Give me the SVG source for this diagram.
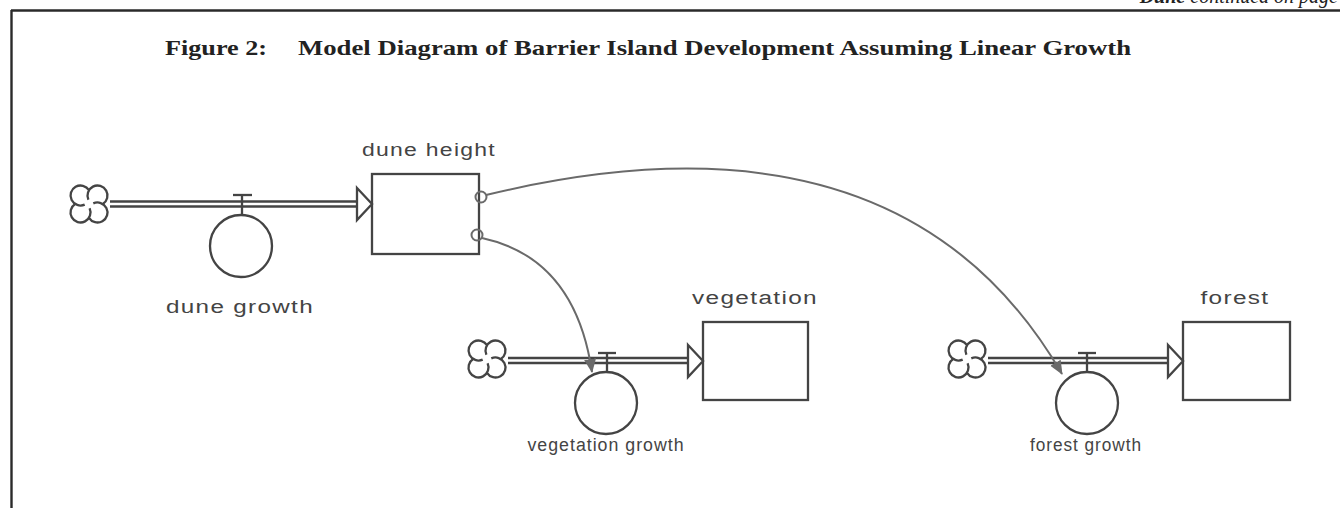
<svg xmlns="http://www.w3.org/2000/svg" xmlns:xlink="http://www.w3.org/1999/xlink" width="1340" height="508" viewBox="0 0 1340 508">
<style>
.ln{stroke:#444;stroke-width:2.3;fill:none}
.stock{stroke:#444;stroke-width:2.3;fill:#fff}
.lbl{font-family:"Liberation Sans",Arial,sans-serif;font-size:18px;letter-spacing:1px;fill:#444;text-anchor:middle}
.conn{stroke:#6a6a6a;stroke-width:2;fill:none}
.title{font-family:"Liberation Serif","Times New Roman",serif;font-weight:bold;font-size:22px;fill:#222}
</style>
<defs>
<g id="lobe"><path d="M0,-13.8 A10,10 0 1 0 -4.3,0.6" class="ln"/></g>
<g id="cloud">
<use xlink:href="#lobe"/>
<use xlink:href="#lobe" transform="rotate(90)"/>
<use xlink:href="#lobe" transform="rotate(180)"/>
<use xlink:href="#lobe" transform="rotate(270)"/>
</g>
<marker id="ah2" viewBox="0 0 14 14" refX="13" refY="7" markerWidth="14" markerHeight="14" orient="auto" markerUnits="userSpaceOnUse">
<path d="M0,1 L14,7 L0,13 z" fill="#6a6a6a"/>
</marker>
</defs>
<rect width="1340" height="508" fill="#fff"/>
<g id="frame">
<line x1="11" y1="10.5" x2="1340" y2="10.5" stroke="#2a2a2a" stroke-width="2.4"/>
<line x1="11.5" y1="10" x2="11.5" y2="508" stroke="#2a2a2a" stroke-width="2.4"/>
</g>
<text x="1338" y="3" text-anchor="end" font-family="Liberation Serif,serif" font-style="italic" font-size="20" fill="#222"><tspan font-weight="bold">Dune</tspan> continued on page</text>
<text class="title" y="55"><tspan x="165" textLength="102" lengthAdjust="spacingAndGlyphs">Figure 2:</tspan><tspan x="298" textLength="833" lengthAdjust="spacingAndGlyphs">Model Diagram of Barrier Island Development Assuming Linear Growth</tspan></text>

<g id="dune_height">
<rect x="372" y="174" width="107" height="80" class="stock"/>
<text class="lbl" x="429" y="156" textLength="134" lengthAdjust="spacingAndGlyphs">dune  height</text>
</g>
<g id="dune_growth">
<use xlink:href="#cloud" transform="translate(89,204)"/>
<line x1="110" y1="201.5" x2="359" y2="201.5" class="ln"/>
<line x1="110" y1="206.5" x2="359" y2="206.5" class="ln"/>
<path d="M357,188 L372,204 L357,220 Z" class="ln" style="fill:#fff"/>
<line x1="233" y1="195" x2="252" y2="195" class="ln"/>
<line x1="242" y1="195" x2="242" y2="215" class="ln"/>
<circle cx="241" cy="246" r="31" class="ln"/>
<text class="lbl" x="240" y="313" textLength="148" lengthAdjust="spacingAndGlyphs">dune  growth</text>
</g>

<g id="vegetation">
<rect x="703" y="322" width="105" height="78" class="stock"/>
<text class="lbl" x="755" y="304" textLength="126" lengthAdjust="spacingAndGlyphs">vegetation</text>
</g>
<g id="vegetation_growth">
<use xlink:href="#cloud" transform="translate(487,359)"/>
<line x1="508" y1="358" x2="689" y2="358" class="ln"/>
<line x1="508" y1="363" x2="689" y2="363" class="ln"/>
<path d="M688,345 L703,361 L688,377 Z" class="ln" style="fill:#fff"/>
<line x1="598" y1="353" x2="616" y2="353" class="ln"/>
<line x1="607" y1="353" x2="607" y2="372" class="ln"/>
<circle cx="606" cy="403" r="31" class="ln"/>
<text class="lbl" x="606" y="451" textLength="157" lengthAdjust="spacingAndGlyphs">vegetation  growth</text>
</g>

<g id="forest">
<rect x="1183" y="322" width="107" height="78" class="stock"/>
<text class="lbl" x="1235" y="304" textLength="69" lengthAdjust="spacingAndGlyphs">forest</text>
</g>
<g id="forest_growth">
<use xlink:href="#cloud" transform="translate(967,359)"/>
<line x1="988" y1="358" x2="1169" y2="358" class="ln"/>
<line x1="988" y1="363" x2="1169" y2="363" class="ln"/>
<path d="M1168,345 L1183,361 L1168,377 Z" class="ln" style="fill:#fff"/>
<line x1="1078" y1="353" x2="1096" y2="353" class="ln"/>
<line x1="1087" y1="353" x2="1087" y2="372" class="ln"/>
<circle cx="1087" cy="403" r="31" class="ln"/>
<text class="lbl" x="1086" y="451" textLength="112" lengthAdjust="spacingAndGlyphs">forest  growth</text>
</g>

<g id="connectors">
<circle cx="481" cy="197" r="5.5" class="conn" stroke-width="1.6"/>
<circle cx="477" cy="235" r="5.5" class="conn" stroke-width="1.6"/>
<path d="M486,195 Q900,95 1062,374" class="conn" marker-end="url(#ah2)"/>
<path d="M482,238 Q575,258 592,372" class="conn" marker-end="url(#ah2)"/>
</g>
</svg>
